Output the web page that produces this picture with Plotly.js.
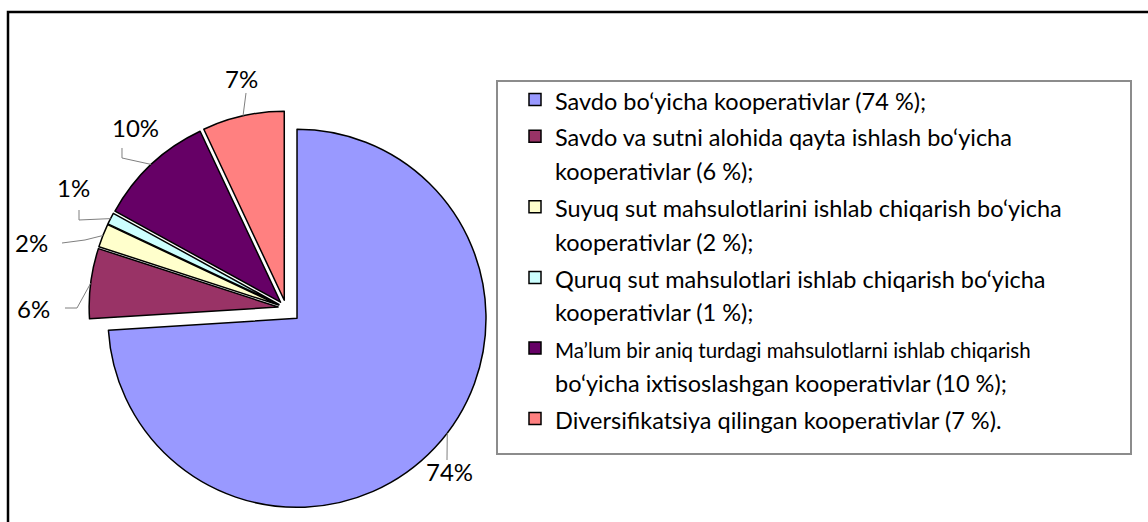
<!DOCTYPE html>
<html>
<head>
<meta charset="utf-8">
<script src="https://cdn.plot.ly/plotly-3.0.1.min.js"></script>
<style>
  html, body { margin: 0; padding: 0; background: #ffffff; }
  #chart { width: 1148px; height: 522px; }
</style>
</head>
<body>
<div id="chart"></div>
<script>
// ---------------- DATA ----------------
const categoryLines = [
  ["Savdo bo‘yicha kooperativlar (74 %);"],
  ["Savdo va sutni alohida qayta ishlash bo‘yicha", "kooperativlar (6 %);"],
  ["Suyuq sut mahsulotlarini ishlab chiqarish bo‘yicha", "kooperativlar (2 %);"],
  ["Quruq sut mahsulotlari ishlab chiqarish bo‘yicha", "kooperativlar (1 %);"],
  ["Ma’lum bir aniq turdagi mahsulotlarni ishlab chiqarish", "bo‘yicha ixtisoslashgan kooperativlar (10 %);"],
  ["Diversifikatsiya qilingan kooperativlar (7 %)."]
];
const values = [74, 6, 2, 1, 10, 7];

// ---------------- STYLE / LAYOUT ----------------
const W = 1148, H = 522;
const sliceColors = ['#9999FF', '#993366', '#FFFFCC', '#CCFFFF', '#660066', '#FF8080'];
const pulls = [0.08, 0.042, 0.042, 0.042, 0.042, 0.042];
const DOMAIN_X = [0.07134, 0.42692];
const DOMAIN_Y = [0.01896, 0.80096];
const FONT = 'Lato, "Liberation Sans", Arial, sans-serif';
// per-line legend font sizes (px)
const legendLineSizes = [[23.5], [23.5, 23.5], [23.5, 23.5], [23.5, 23.5], [20.5, 23.5], [23.5]];
// label placement (pixel centre) + leader waypoints (pixels) + attach fraction in slice
const labelStyle = [
  { pos: [449, 471], path: [[447, 460]], frac: 0.478 },
  { pos: [33, 308], path: [[65, 308], [77, 308]], frac: 0.5 },
  { pos: [31, 243], path: [[62, 243], [85, 240]], frac: 0.5 },
  { pos: [73, 188], path: [[79, 210], [79, 220]], frac: 0.5 },
  { pos: [135, 128], path: [[122, 148], [122, 158]], frac: 0.5 },
  { pos: [241, 78], path: [[246, 93]], frac: 0.5 }
];

// legend label text built from category lines
const legendLabels = categoryLines.map((lines, i) =>
  lines.map((t, j) => `<span style="font-size:${legendLineSizes[i][j]}px">${t}</span>`).join('<br>')
);

// ---------------- GEOMETRY (same as Plotly's pie scaling) ----------------
const px = x => x / W;
const py = y => 1 - y / H;
const total = values.reduce((a, b) => a + b, 0);
const maxPull = Math.max(...pulls);
const boxW = W * (DOMAIN_X[1] - DOMAIN_X[0]);
const boxH = H * (DOMAIN_Y[1] - DOMAIN_Y[0]);
const R = Math.min(boxW, boxH) / 2 / (1 + maxPull);
const CX = W * (DOMAIN_X[0] + DOMAIN_X[1]) / 2;
const CY = H * (1 - DOMAIN_Y[0]) - boxH / 2;

const shapes = [];
const annotations = [];
let cum = 0;
values.forEach((v, i) => {
  const midA = 2 * Math.PI * (cum + v / 2) / total;
  const atA = 2 * Math.PI * (cum + v * labelStyle[i].frac) / total;
  const ax = CX + pulls[i] * R * Math.sin(midA);
  const ay = CY - pulls[i] * R * Math.cos(midA);
  const ex = ax + R * Math.sin(atA);
  const ey = ay - R * Math.cos(atA);
  cum += v;

  const pts = labelStyle[i].path.concat([[ex, ey]]);
  const d = pts.map((p, k) => (k === 0 ? 'M' : 'L') + px(p[0]).toFixed(5) + ',' + py(p[1]).toFixed(5)).join(' ');
  shapes.push({
    type: 'path', xref: 'paper', yref: 'paper', path: d,
    line: { color: '#7f7f7f', width: 1 }
  });
  annotations.push({
    xref: 'paper', yref: 'paper',
    x: px(labelStyle[i].pos[0]), y: py(labelStyle[i].pos[1]),
    xanchor: 'center', yanchor: 'middle', showarrow: false,
    text: Math.round(100 * v / total) + '%',
    font: { family: FONT, size: 24, color: '#000000' }
  });
});

// legend frame
shapes.push({
  type: 'rect', xref: 'paper', yref: 'paper',
  x0: px(497), x1: px(1131), y0: py(454), y1: py(81),
  line: { color: '#8c8c8c', width: 2 }
});
// outer chart frame
shapes.push({
  type: 'rect', xref: 'paper', yref: 'paper',
  x0: px(8), x1: px(1160), y0: py(540), y1: py(12),
  line: { color: '#000000', width: 2.5 }
});

const trace = {
  type: 'pie',
  labels: legendLabels,
  values: values,
  sort: false,
  direction: 'clockwise',
  rotation: 0,
  pull: pulls,
  textinfo: 'none',
  hoverinfo: 'skip',
  domain: { x: DOMAIN_X, y: DOMAIN_Y },
  marker: { colors: sliceColors, line: { color: '#000000', width: 1.5 } }
};

const layout = {
  width: W, height: H,
  margin: { l: 0, r: 0, t: 0, b: 0 },
  paper_bgcolor: '#ffffff',
  plot_bgcolor: '#ffffff',
  font: { family: FONT, color: '#000000' },
  showlegend: true,
  legend: {
    x: px(515), y: py(76), xanchor: 'left', yanchor: 'top',
    bgcolor: 'rgba(0,0,0,0)', borderwidth: 0,
    valign: 'top',
    font: { family: FONT, size: 26, color: '#000000' }
  },
  shapes: shapes,
  annotations: annotations
};

Plotly.newPlot('chart', [trace], layout, { displayModeBar: false, staticPlot: true });
</script>
</body>
</html>
